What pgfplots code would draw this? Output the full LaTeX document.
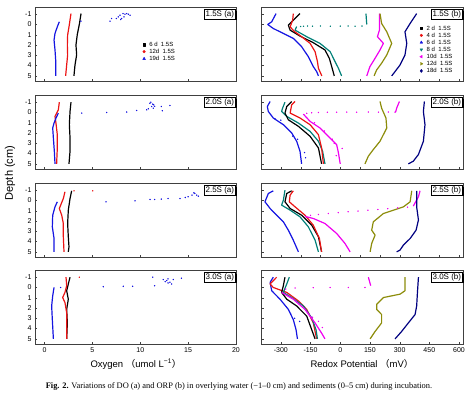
\documentclass[border=0pt]{standalone}
\usepackage{pgfplots}
\pgfplotsset{compat=1.18}
\usepackage{fontspec}
\setmainfont{Liberation Sans}
\newfontfamily\seriffont{Liberation Serif}
\newfontfamily\cjk{Noto Sans CJK SC}
\usetikzlibrary{shadows}
\definecolor{cred}{RGB}{235,20,20}
\definecolor{cblue}{RGB}{20,20,225}
\definecolor{cteal}{RGB}{0,128,120}
\definecolor{cmag}{RGB}{240,0,240}
\definecolor{colive}{RGB}{140,140,10}
\definecolor{cnavy}{RGB}{0,0,128}
\pgfplotsset{
  panel/.style={scale only axis, height=74pt, y dir=reverse, ymin=-1.7, ymax=5.5,
    ytick={-1,0,...,5}, tick pos=left, tick align=inside, major tick length=2.5pt,
    axis line style={black!75}, tick style={black!75},
    ticklabel style={font=\fontsize{7}{8}\selectfont},
    /pgf/number format/assume math mode=true, clip=false, anchor=north west,
    every axis plot/.append style={line width=1.2pt, line join=round},
    legend cell align=left,
    legend style={draw=none, fill=none, font=\fontsize{6}{6}\selectfont,
      nodes={inner sep=0.8pt, text height=4.5pt, text depth=1pt}, row sep=0pt}},
  L/.style={panel, width=201pt, xmin=-1, xmax=20, xtick={0,5,10,15,20}},
  R/.style={panel, width=202pt, xmin=-400, xmax=620},
}
\newcommand{\crv}[2]{\addplot[#1, forget plot] coordinates {#2};}
\newcommand{\dts}[2]{\addplot[#1, only marks, mark=*, mark size=0.55pt, line width=0.3pt, forget plot] coordinates {#2};}
\newcommand{\lgent}[2]{\addlegendimage{only marks, line width=0.4pt, #1}\addlegendentry{\hspace{3pt}#2}}
\newcommand{\plab}[1]{\node[draw=black, fill=white, line width=0.5pt, inner sep=1.2pt,
  font=\fontsize{8}{9}\selectfont, anchor=north east,
  general shadow={shadow xshift=1.3pt, shadow yshift=-1.3pt, fill=black}]
  at ([xshift=-0.5pt,yshift=-2pt]rel axis cs:1,1) {#1};}
\begin{document}
\begin{tikzpicture}
\useasboundingbox (0,0) rectangle (475pt,-397pt);
% ---------------- Row 1 ----------------
\begin{axis}[L, at={(35pt,-7pt)}, xticklabels={},
  legend style={at={(0.52,0.57)}, anchor=north west}]
\crv{black}{(3.81,-1.06)(3.63,0)(3.42,0.97)(3.28,1.99)(3.35,2.97)(3.18,3.93)(3.07,5)}
\crv{cred}{(2.76,-1.06)(2.59,0)(2.41,1.03)(2.38,2)(2.41,2.97)(2.31,3.93)(2.2,5)}
\crv{cblue}{(1.54,-0.26)(1.33,0.23)(1.09,0.87)(0.99,1.52)(1.09,2.48)(1.16,3.45)(1.16,5)}
\dts{cblue}{(3.8,-0.32)(6.84,-0.32)(7.0,-0.58)(7.5,-0.58)(7.7,-0.74)(7.88,-0.9)(8.05,-0.58)(8.2,-1.06)(8.4,-1.0)(8.58,-1.06)(8.75,-1.0)(8.93,-0.9)(7.95,-0.48)(8.3,-0.74)}
\lgent{mark=square*, mark size=1.2pt, black}{6 d\ \ 1.5S}
\lgent{mark=*, mark size=1.3pt, cred}{12d\ \ 1.5S}
\lgent{mark=triangle*, mark size=1.6pt, cblue}{19d\ \ 1.5S}
\plab{1.5S (a)}
\end{axis}
\begin{axis}[R, at={(261pt,-7pt)}, xtick={-300,-200,...,600}, xticklabels={}, yticklabels={},
  legend style={at={(0.77,0.79)}, anchor=north west}]
\crv{black}{(-203,-1.06)(-237,-0.42)(-262,0.06)(-253,0.55)(-203,1.13)(-136,1.77)(-77,2.48)(-55,3.29)(-43,4.1)(-30,5)}
\crv{cred}{(-237,-1.06)(-240,-0.42)(-253,0.23)(-233,0.65)(-195,1.19)(-152,1.84)(-127,2.64)(-115,3.61)(-110,4.26)(-93,5)}
\crv{cblue}{(-324,-1.06)(-346,-0.26)(-366,0)(-338,0.39)(-287,0.87)(-237,1.35)(-195,2.16)(-161,3.13)(-136,4.1)(-119,4.58)(-110,5)}
\crv{cteal}{(130,-1.06)(134,0)}
\dts{cteal}{(110,0.15)(75,0.17)(40,0.15)(0,0.16)(-50,0.17)(-100,0.15)(-140,0.17)(-165,0.15)(-185,0.18)(-200,0.2)}
\crv{cteal}{(-220,0.2)(-228,0.55)(-169,1.19)(-102,1.84)(-51,2.64)(-26,3.61)(-9,4.26)(7,5)}
\crv{cmag}{(198,-1.06)(198,0.55)(188,1.19)(218,1.84)(201,2.48)(176,3.29)(150,4.1)(134,5)}
\crv{colive}{(201,-1.06)(209,-0.1)(235,0.71)(260,1.84)(235,2.97)(209,3.77)(184,4.42)(171,5)}
\crv{cnavy}{(386,-1.06)(353,-0.1)(327,0.71)(336,1.84)(327,2.97)(302,3.94)(277,4.58)(260,5)}
\lgent{mark=square*, mark size=1.2pt, black}{2 d\ \ 1.5S}
\lgent{mark=*, mark size=1.3pt, cred}{4 d\ \ 1.5S}
\lgent{mark=triangle*, mark size=1.6pt, cblue}{6 d\ \ 1.5S}
\lgent{mark=triangle*, mark size=1.6pt, cteal, mark options={rotate=180}}{8 d\ \ 1.5S}
\lgent{mark=triangle*, mark size=1.6pt, cmag, mark options={rotate=90}}{10d\ \ 1.5S}
\lgent{mark=triangle*, mark size=1.6pt, colive, mark options={rotate=-90}}{12d\ \ 1.5S}
\lgent{mark=diamond*, mark size=1.6pt, cnavy}{18d\ \ 1.5S}
\plab{1.5S (b)}
\end{axis}
% ---------------- Row 2 ----------------
\begin{axis}[L, at={(35pt,-95pt)}, xticklabels={}]
\crv{black}{(2.76,-1.0)(2.66,-0.1)(2.59,1.19)(2.66,2.48)(2.66,3.77)(2.55,5)}
\crv{cred}{(1.54,-1)(1.44,-0.26)(1.09,0.38)(1.19,1.03)(1.33,2.16)(1.33,3.45)(1.26,5)}
\crv{cblue}{(1.44,0.06)(1.19,0.55)(0.99,1.03)(0.85,1.51)(0.92,2.48)(1.02,3.77)(1.09,5)}
\dts{cblue}{(3.88,0.06)(6.49,0)(8.58,-0.04)(9.62,-0.2)(10.67,-0.26)(11.0,-0.9)(11.19,-0.58)(11.36,-0.42)(12.2,-0.58)(12.3,-0.17)(13.1,-0.68)(10.84,-0.36)(11.3,-0.81)(11.4,-0.75)(11.1,-1.0)(11.5,-0.6)}
\plab{2.0S (a)}
\end{axis}
\begin{axis}[R, at={(261pt,-95pt)}, xtick={-300,-200,...,600}, xticklabels={}, yticklabels={}]
\crv{cblue}{(-354,-1.07)(-368,-0.58)(-363,-0.1)(-338,0.54)(-287,1.19)(-245,1.99)(-220,2.8)(-203,3.77)(-195,5)}
\dts{cblue}{(-330,0.6)(-300,0.75)(-240,2.3)(-215,2.6)(-180,3.9)(-175,4.4)}
\crv{cteal}{(-279,-1.0)(-291,-0.42)(-296,-0.1)(-270,0.38)(-211,1.03)(-152,1.84)(-110,2.8)(-89,3.77)(-77,5)}
\crv{black}{(-245,-1.07)(-270,-0.58)(-279,0.06)(-262,0.71)(-211,1.35)(-152,2.32)(-110,3.45)(-94,5)}
\crv{cred}{(-228,-1.07)(-245,-0.75)(-253,0.06)(-203,0.54)(-152,1.19)(-110,2.16)(-94,3.45)(-85,5)}
\crv{cmag}{(299,-1.07)(285,-0.42)(280,-0.05)}
\dts{cmag}{(277,-0.03)(243,-0.04)(193,-0.03)(142,-0.04)(83,-0.03)(33,-0.04)(-18,-0.03)(-65,-0.02)(-110,0.0)(-144,0.03)(-169,0.08)}
\crv{cmag}{(-186,0.16)(-152,0.87)(-102,1.51)(-60,2.32)(-18,3.13)(-9,3.93)(0,5)}
\dts{cmag}{(-130,1.0)(-80,1.8)(-40,2.6)(-30,3.0)(10,3.5)(-20,4.2)}
\crv{colive}{(201,-1.07)(209,-0.42)(231,0.54)(235,1.51)(201,2.8)(167,3.61)(142,4.25)(125,5)}
\crv{cnavy}{(425,-1.07)(420,-0.1)(428,1.19)(420,2.8)(395,4.09)(369,4.74)(344,5)}
\plab{2.0S (b)}
\end{axis}
% ---------------- Row 3 ----------------
\begin{axis}[L, at={(35pt,-183pt)}, xticklabels={}]
\crv{black}{(2.83,-0.94)(2.66,-0.19)(2.48,0.94)(2.41,2.24)(2.48,3.53)(2.55,4.51)(2.48,5)}
\crv{cred}{(2.13,-0.84)(1.96,-0.19)(1.54,0.78)(1.79,1.43)(1.96,2.24)(1.96,3.53)(2.03,5)}
\dts{cred}{(3.08,-0.94)(5.03,-0.94)}
\crv{cblue}{(1.33,0.13)(1.09,0.62)(0.85,1.43)(0.81,2.56)(0.99,3.7)(0.99,5)}
\dts{cblue}{(6.42,0.13)(9.45,0.03)(11.02,-0.1)(11.5,-0.1)(12.2,-0.13)(12.9,-0.19)(14.15,-0.19)(14.7,-0.29)(15.0,-0.36)(15.4,-0.52)(15.7,-0.68)(15.9,-0.52)(16.07,-0.42)(15.6,-0.74)}
\plab{2.5S (a)}
\end{axis}
\begin{axis}[R, at={(261pt,-183pt)}, xtick={-300,-200,...,600}, xticklabels={}, yticklabels={}]
\crv{cblue}{(-338,-0.94)(-363,-0.68)(-380,0.13)(-354,0.78)(-321,1.43)(-287,2.08)(-262,2.89)(-237,3.86)(-211,5)}
\crv{cteal}{(-279,-1.0)(-287,-0.03)(-296,0.45)(-253,0.94)(-203,1.59)(-161,2.56)(-127,3.86)(-110,5)}
\crv{black}{(-245,-0.94)(-270,-0.68)(-279,0.13)(-253,0.78)(-195,1.43)(-144,2.4)(-110,3.53)(-94,5)}
\crv{cred}{(-237,-0.94)(-253,-0.52)(-257,0.13)(-228,0.62)(-178,1.43)(-136,2.4)(-105,3.7)(-94,5)}
\crv{cmag}{(403,-0.94)(395,-0.36)(369,0.55)}
\dts{cmag}{(340,0.65)(290,0.72)(240,0.8)(190,0.88)(140,0.95)(90,1.03)(40,1.1)(-10,1.18)(-60,1.27)(-110,1.36)(-150,1.45)}
\crv{cmag}{(-178,1.55)(-136,1.75)(-77,2.24)(-18,3.21)(24,4.18)(50,5)}
\crv{colive}{(361,-0.94)(353,0.13)(319,0.62)(218,1.27)(167,2.08)(159,2.89)(176,3.37)(159,4.18)(151,5)}
\crv{cnavy}{(386,-0.94)(386,0.62)(395,1.9)(383,2.89)(353,3.7)(319,4.34)(302,4.83)(285,5)}
\plab{2.5S (b)}
\end{axis}
% ---------------- Row 4 ----------------
\begin{axis}[L, at={(35pt,-270pt)}]
\crv{black}{(2.66,-1)(2.48,-0.34)(2.31,0.32)(2.48,1.14)(2.31,2.13)(2.38,3.45)(2.31,5)}
\crv{cred}{(2.24,-1)(2.31,-0.18)(2.13,0.48)(1.89,0.98)(2.13,1.47)(2.31,2.46)(2.31,3.78)(2.31,5)}
\dts{cred}{(3.63,-1)}
\crv{cblue}{(0.99,-0.01)(0.85,0.81)(0.74,1.8)(0.81,3.12)(0.92,5)}
\dts{cblue}{(1.68,0)(6.14,-0.08)(8.23,-0.11)(9.2,-0.11)(11.3,-1)(11.5,-0.17)(12.4,-0.77)(12.6,-0.57)(12.76,-0.67)(12.9,-0.84)(13.1,-0.51)(13.28,-0.34)(13.45,-0.77)(14.3,-0.9)(12.9,-0.44)}
\plab{3.0S (a)}
\end{axis}
\begin{axis}[R, at={(261pt,-270pt)}, xtick={-300,-150,...,600}, yticklabels={}]
\crv{cblue}{(-338,-1)(-354,-0.5)(-346,0.32)(-304,1.14)(-262,2.13)(-237,3.12)(-223,4.11)(-216,5)}
\dts{cblue}{(-250,2.6)(-230,3.0)(-205,3.3)}
\crv{cred}{(-321,-1)(-354,-0.34)(-338,0)(-270,0.48)(-211,1.31)(-169,2.13)(-136,3.45)(-119,5)}
\crv{cteal}{(-257,-1)(-270,-0.34)(-287,0.48)(-245,0.98)(-186,1.8)(-144,2.96)(-122,4.11)(-115,5)}
\crv{black}{(-279,-1)(-287,-0.18)(-296,0.48)(-270,1.14)(-220,1.8)(-169,2.79)(-144,4.11)(-127,5)}
\crv{cmag}{(142,-1)(154,-0.18)}
\dts{cmag}{(125,0)(41,0)(-51,0)(-136,0.02)(-228,0.05)(-275,0.15)}
\crv{cmag}{(-296,0.48)(-237,1.14)(-178,2.13)(-127,3.45)(-94,4.44)(-77,5)}
\dts{cmag}{(-140,2.9)(-110,3.3)(-90,3.9)}
\crv{colive}{(327,-1)(327,0.32)(302,0.65)(218,0.98)(184,1.64)(184,2.13)(209,2.63)(209,3.45)(176,4.28)(151,5)}
\crv{cnavy}{(395,-1)(390,0.48)(386,1.8)(378,2.63)(344,3.45)(310,4.28)(277,5)}
\plab{3.0S (b)}
\end{axis}
% ---------------- labels ----------------
\node[rotate=90, font=\fontsize{11}{12}\selectfont] at (10pt,-173pt) {Depth (cm)};
\node[font=\fontsize{9.5}{11}\selectfont] at (136pt,-364pt) {Oxygen\ {\cjk （}umol L\textsuperscript{−1}{\cjk ）}};
\node[font=\fontsize{9.5}{11}\selectfont] at (362pt,-364pt) {Redox Potential\ {\cjk （}mV{\cjk ）}};
\node[font=\seriffont\fontsize{8.4}{9}\selectfont] at (239pt,-386pt) {\textbf{Fig. 2.} Variations of DO (a) and ORP (b) in overlying water (−1–0 cm) and sediments (0–5 cm) during incubation.};
\end{tikzpicture}
\end{document}
